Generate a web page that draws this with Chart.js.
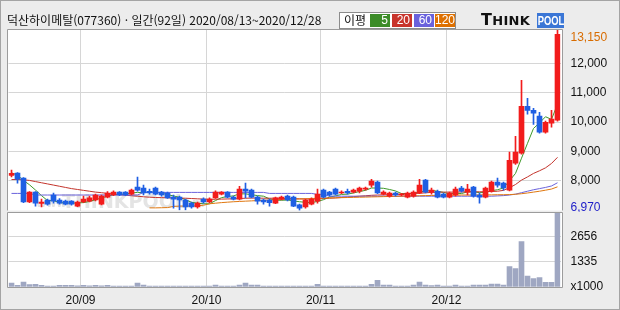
<!DOCTYPE html>
<html lang="ko">
<head>
<meta charset="utf-8">
<script src="https://cdn.jsdelivr.net/npm/chart.js@4.4.0/dist/chart.umd.min.js"></script>
<style>
  html, body { margin: 0; padding: 0; background: #fff; }
  #box { position: relative; width: 620px; height: 310px; background: #ececec; overflow: hidden; }
  #box::after { content: ''; position: absolute; left: 0; top: 0; right: 0; bottom: 0; border: 1px solid #a4a4a4; pointer-events: none; }
  canvas { position: absolute; left: 0; }
  #price { top: 0; }
  #volume { top: 212px; }
  #title { position: absolute; left: 7px; top: 12px; font: 12px 'Noto Sans CJK KR', sans-serif; color: #111; white-space: nowrap; line-height: 16px; }
  #legend { position: absolute; left: 339px; top: 12px; width: 115px; height: 15px; background: #fff; border: 1px solid #8c8c8c; font: 12px 'Noto Sans CJK KR', sans-serif; color: #111; }
  #legend .lbl { position: absolute; left: 4px; top: -1px; line-height: 16px; }
  #legend .sw { position: absolute; top: 1px; height: 13px; width: 20px; color: #fff; text-align: right; font: 12px 'Liberation Sans', sans-serif; line-height: 13px; box-sizing: border-box; padding-right: 2px; }
  #logo { position: absolute; left: 481px; top: 13px; height: 15px; white-space: nowrap; }
  #logo .think { position: absolute; left: 0; top: -1px; font: bold 16px 'DejaVu Sans', sans-serif; color: #111; line-height: 16px; letter-spacing: 0.3px; }
  #logo .think small { font-size: 13px; }
  #logo .pool { position: absolute; left: 56px; top: 0; width: 27px; height: 15px; background: #3a76d6; overflow: hidden; }
  #logo .pool span { display: block; width: 36px; color: #fff; font: bold 13px 'Liberation Sans', sans-serif; line-height: 15px; transform: scaleX(0.72); transform-origin: 0 0; padding-left: 1px; }
</style>
</head>
<body>
<div id="box">
  <canvas id="price" width="620" height="212"></canvas>
  <canvas id="volume" width="620" height="98"></canvas>
  <div id="title">덕산하이메탈(077360) · 일간(92일) 2020/08/13~2020/12/28</div>
  <div id="legend">
    <span class="lbl">이평</span>
    <span class="sw" style="left:30px;background:#3c8c28">5</span>
    <span class="sw" style="left:52px;background:#c8342c">20</span>
    <span class="sw" style="left:74px;background:#6a62dc">60</span>
    <span class="sw" style="left:95px;background:#de7000">120</span>
  </div>
  <div id="logo"><span class="think">T<small>HINK</small></span><span class="pool"><span>POOL</span></span></div>
</div>
<script>
// daily candles 2020/08/13 ~ 2020/12/28 (92 trading days)
const opens = [
  8170, 8250, 8080, 7260, 7600, 7210, 7330, 7500, 7330, 7290,
  7290, 7120, 7260, 7290, 7330, 7190, 7430, 7500, 7600, 7600,
  7530, 7770, 7740, 7630, 7740, 7600, 7570, 7430, 7430, 7330,
  7220, 7090, 7360, 7260, 7400, 7530, 7600, 7430, 7360, 7700,
  7670, 7430, 7330, 7330, 7220, 7360, 7460, 7430, 7160, 7090,
  7190, 7290, 7670, 7600, 7700, 7570, 7630, 7600, 7630, 7700,
  7840, 7940, 7530, 7460, 7570, 7500, 7430, 7460, 7570, 8010,
  7600, 7630, 7530, 7430, 7500, 7740, 7600, 7770, 7500, 7430,
  7630, 7940, 7910, 7670, 8590, 8930, 10540, 10400, 10200, 9650,
  9960, 10060
];
const highs = [
  8350, 8270, 8100, 7620, 7620, 7360, 7360, 7570, 7380, 7330,
  7310, 7290, 7460, 7460, 7530, 7500, 7620, 7640, 7620, 7620,
  7700, 8110, 7840, 7700, 7770, 7630, 7600, 7500, 7460, 7360,
  7260, 7260, 7400, 7400, 7640, 7620, 7620, 7460, 7800, 7910,
  7700, 7460, 7360, 7360, 7430, 7460, 7500, 7460, 7190, 7360,
  7400, 7700, 7700, 7630, 7740, 7640, 7700, 7700, 7770, 7770,
  8040, 7980, 7640, 7600, 7600, 7560, 7600, 7640, 8040, 8040,
  7740, 7670, 7570, 7600, 7770, 7800, 7870, 7800, 7570, 7770,
  7980, 8080, 7940, 8970, 9510, 11430, 10810, 10470, 10330, 10030,
  10400, 13150
];
const lows = [
  8120, 7910, 7240, 7240, 7120, 7090, 7150, 7220, 7190, 7160,
  7150, 7100, 7240, 7260, 7300, 7160, 7400, 7480, 7480, 7480,
  7500, 7630, 7500, 7530, 7500, 7460, 7380, 7050, 6990, 6990,
  7050, 7050, 7220, 7240, 7380, 7500, 7400, 7330, 7330, 7400,
  7400, 7190, 7190, 7120, 7200, 7330, 7300, 7100, 6970, 7050,
  7160, 7220, 7400, 7460, 7500, 7550, 7530, 7570, 7570, 7670,
  7770, 7550, 7500, 7430, 7460, 7470, 7400, 7430, 7550, 7570,
  7530, 7400, 7400, 7400, 7460, 7600, 7500, 7430, 7220, 7400,
  7600, 7770, 7670, 7640, 8550, 8900, 10270, 9920, 9620, 9620,
  9820, 10030
];
const closes = [
  8240, 8045, 7260, 7600, 7220, 7260, 7190, 7290, 7220, 7190,
  7190, 7260, 7360, 7400, 7500, 7460, 7570, 7600, 7500, 7500,
  7670, 7670, 7570, 7570, 7530, 7500, 7400, 7360, 7330, 7090,
  7090, 7220, 7260, 7360, 7600, 7600, 7430, 7360, 7700, 7630,
  7430, 7290, 7260, 7240, 7400, 7430, 7330, 7120, 7050, 7330,
  7360, 7530, 7430, 7500, 7530, 7600, 7570, 7670, 7740, 7740,
  7980, 7570, 7600, 7570, 7500, 7530, 7570, 7600, 7840, 7600,
  7670, 7430, 7430, 7570, 7700, 7630, 7700, 7460, 7430, 7740,
  7940, 7840, 7740, 8690, 8970, 10540, 10400, 10300, 9650, 9990,
  10100, 13000
];
// volume, x1000 shares
const volumes = [
  213, 90, 266, 122, 144, 90, 50, 50, 90, 90,
  90, 60, 90, 60, 90, 60, 90, 50, 50, 50,
  50, 213, 100, 50, 50, 50, 50, 50, 50, 50,
  50, 50, 50, 50, 100, 50, 50, 50, 100, 213,
  105, 105, 50, 50, 50, 50, 50, 50, 50, 50,
  50, 140, 50, 50, 50, 50, 50, 50, 50, 50,
  140, 355, 105, 105, 50, 50, 50, 105, 266, 105,
  70, 105, 50, 50, 105, 50, 50, 105, 105, 105,
  160, 160, 105, 1080, 975, 2410, 585, 443, 495, 250,
  250, 3930
];
// moving averages as drawn
const ma5 = [
  8260, 8180, 8000, 7850, 7670, 7480, 7310, 7310, 7240, 7230,
  7220, 7230, 7240, 7280, 7340, 7400, 7460, 7510, 7530, 7530,
  7570, 7590, 7580, 7600, 7600, 7570, 7510, 7470, 7420, 7340,
  7250, 7220, 7200, 7200, 7310, 7410, 7450, 7470, 7540, 7540,
  7510, 7480, 7460, 7370, 7320, 7320, 7330, 7300, 7270, 7250,
  7240, 7280, 7340, 7430, 7470, 7520, 7530, 7570, 7620, 7660,
  7740, 7740, 7730, 7690, 7640, 7550, 7550, 7550, 7610, 7630,
  7660, 7630, 7590, 7540, 7560, 7550, 7610, 7610, 7580, 7590,
  7650, 7680, 7740, 7990, 8240, 8760, 9270, 9780, 9970, 10180,
  10090, 10610
];
const ma20 = [
  8030, 8030, 8020, 8000, 7960, 7920, 7880, 7840, 7800, 7760,
  7720, 7690, 7660, 7630, 7600, 7580, 7555, 7535, 7515, 7495,
  7475, 7460, 7440, 7425, 7415, 7410, 7405, 7400, 7395, 7390,
  7380, 7370, 7360, 7355, 7355, 7360, 7365, 7370, 7380, 7390,
  7395, 7395, 7390, 7390, 7390, 7385, 7380, 7375, 7370, 7365,
  7365, 7370, 7380, 7390, 7400, 7415, 7430, 7445, 7460, 7475,
  7490, 7500, 7505, 7510, 7520, 7530, 7540, 7550, 7560, 7575,
  7590, 7595, 7600, 7600, 7600, 7605, 7610, 7610, 7610, 7615,
  7620, 7630, 7660, 7750, 7860, 8010, 8120, 8240, 8330, 8430,
  8580, 8790
];
const ma60 = [
  7555, 7555, 7555, 7555, 7500, 7500, 7500, 7500, 7500, 7500,
  7500, 7500, 7500, 7500, 7500, 7500, 7500, 7500, 7500, 7500,
  7500, 7500, 7590, 7590, 7590, 7590, 7590, 7590, 7590, 7590,
  7590, 7590, 7590, 7590, 7590, 7590, 7590, 7590, 7590, 7590,
  7590, 7590, 7590, 7555, 7555, 7555, 7555, 7555, 7555, 7555,
  7555, 7520, 7520, 7460, 7460, 7460, 7460, 7460, 7460, 7460,
  7460, 7460, 7460, 7460, 7460, 7460, 7460, 7460, 7460, 7460,
  7460, 7460, 7460, 7460, 7460, 7460, 7460, 7460, 7460, 7460,
  7460, 7470, 7480, 7500, 7530, 7580, 7630, 7680, 7720, 7760,
  7810, 7920
];
const ma120 = [
  null, null, null, null, null, null, null, null, null, null,
  null, null, null, null, null, null, null, null, null, null,
  null, null, null, 7060, 7060, 7065, 7070, 7110, 7120, 7120,
  7125, 7130, 7150, 7200, 7220, 7240, 7255, 7270, 7280, 7290,
  7300, 7310, 7320, 7330, 7340, 7350, 7355, 7360, 7365, 7370,
  7380, 7390, 7395, 7400, 7405, 7410, 7415, 7420, 7425, 7430,
  7435, 7440, 7445, 7450, 7455, 7460, 7465, 7470, 7475, 7480,
  7485, 7490, 7490, 7495, 7495, 7500, 7500, 7500, 7505, 7505,
  7505, 7510, 7510, 7515, 7525, 7545, 7570, 7600, 7630, 7665,
  7705, 7780
];
const monthLabels = ['20/09', '20/10', '20/11', '20/12'];
const monthStarts = [12, 33, 52, 73];      // index of first trading day of the month
const priceTicks = [6970, 8000, 9000, 10000, 11000, 12000, 13150];
const volumeTicks = [0, 1335, 2656];

const RED = '#f21c1c', BLUE = '#1f5fe3';
const GRID = '#d6d6d6';
const priceMin = priceTicks[0], priceMax = priceTicks[priceTicks.length - 1];
const idx = closes.map((c, i) => i);
const candleColor = idx.map(i => closes[i] >= opens[i] ? RED : BLUE);
const pts = arr => arr.map((v, i) => ({ x: i, y: v }));

Chart.defaults.font.family = "'Liberation Sans', 'DejaVu Sans', sans-serif";
Chart.defaults.font.size = 12;
Chart.defaults.color = '#111';
Chart.defaults.animation = false;

// keep the plot box exactly where the layout padding puts it
const noPad = s => { s.paddingTop = 0; s.paddingBottom = 0; s.paddingLeft = 0; s.paddingRight = 0; };

const xScale = (showLabels) => ({
  type: 'linear',
  offset: false,
  min: -0.5,
  max: closes.length - 0.5,
  afterBuildTicks: s => { s.ticks = monthStarts.map(i => ({ value: i - 0.5 })); },
  afterFit: s => { s.height = showLabels ? 23 : 0; noPad(s); },
  ticks: {
    display: showLabels,
    autoSkip: false,
    maxRotation: 0,
    padding: 6,
    callback: (v, i) => monthLabels[i]
  },
  grid: { color: GRID, drawTicks: false, offset: false },
  border: { display: false }
});

const framePlugin = {
  id: 'frame',
  beforeDraw(c) {
    const a = c.chartArea, x = c.ctx;
    x.save();
    x.fillStyle = '#fff';
    x.fillRect(a.left - 1, a.top, a.right - a.left + 3, a.bottom - a.top);
    x.restore();
  },
  afterDraw(c) {
    const a = c.chartArea, x = c.ctx;
    const l = a.left - 1, r = a.right + 2, t = Math.floor(a.top) - 0.5, b = Math.floor(a.bottom) + 0.5;
    x.save();
    x.strokeStyle = '#9c9c9c';
    x.lineWidth = 1;
    x.beginPath();
    x.moveTo(l, b); x.lineTo(l, t); x.lineTo(r, t); x.lineTo(r, b);
    if (c.options.plugins.frame && c.options.plugins.frame.bottom) x.lineTo(l, b);
    x.stroke();
    x.restore();
  }
};

const watermark = {
  id: 'watermark',
  beforeDatasetsDraw(c) {
    const x = c.ctx;
    x.save();
    x.fillStyle = '#e4e4e4';
    x.textBaseline = 'alphabetic';
    x.font = "bold 11px 'DejaVu Sans'";
    x.fillText('www.', 36, 207);
    x.font = "bold 19px 'DejaVu Sans'";
    x.fillText('THINKPOOL', 62, 208);
    x.font = "bold 12px 'DejaVu Sans'";
    x.fillText('.com', 172, 207);
    x.restore();
  }
};

new Chart(document.getElementById('price'), {
  type: 'bar',
  data: {
    datasets: [
      { type: 'line', data: pts(ma120), borderColor: '#e07810', borderWidth: 1, pointRadius: 0, order: 10 },
      { type: 'line', data: pts(ma60), borderColor: '#6a62dc', borderWidth: 1, pointRadius: 0, order: 10 },
      { type: 'line', data: pts(ma20), borderColor: '#c4342c', borderWidth: 1, pointRadius: 0, order: 10 },
      { type: 'line', data: pts(ma5), borderColor: '#3f9a2a', borderWidth: 1, pointRadius: 0, order: 10 },
      { data: idx.map(i => ({ x: i, y: [lows[i], highs[i]] })), backgroundColor: candleColor,
        barThickness: 1, grouped: false, order: 5 },
      { data: idx.map(i => ({ x: i, y: [opens[i], closes[i]] })), backgroundColor: candleColor,
        barThickness: 5, minBarLength: 1, grouped: false, order: 1 }
    ]
  },
  options: {
    responsive: false,
    layout: { padding: { left: 8.5, top: 30, right: 0, bottom: 1.5 } },
    plugins: { legend: { display: false }, tooltip: { enabled: false }, frame: { bottom: false } },
    scales: {
      x: xScale(false),
      y: {
        position: 'right',
        min: priceMin,
        max: priceMax,
        afterBuildTicks: s => { s.ticks = priceTicks.map(v => ({ value: v })); },
        afterFit: s => { s.width = 59.5; noPad(s); },
        ticks: {
          autoSkip: false,
          padding: 10,
          callback: v => {
            const s = v.toLocaleString('en-US');
            if (v === priceMax) return ['', s];
            if (v === priceMin) return [s, ''];
            return s;
          },
          color: ctx => ctx.tick.value === priceMax ? '#d86c00' : (ctx.tick.value === priceMin ? '#1c1cc8' : '#111'),
          font: ctx => ({ size: 12, lineHeight: ctx.tick && ctx.tick.value === priceMax ? 1.25 : (ctx.tick && ctx.tick.value === priceMin ? 0.55 : 1.2) })
        },
        grid: {
          drawTicks: false,
          color: ctx => (ctx.tick && (ctx.tick.value === priceMin || ctx.tick.value === priceMax)) ? 'rgba(0,0,0,0)' : GRID
        },
        border: { display: false }
      }
    }
  },
  plugins: [framePlugin, watermark]
});

new Chart(document.getElementById('volume'), {
  type: 'bar',
  data: {
    datasets: [
      { data: pts(volumes), backgroundColor: '#9fa7c2', barThickness: 5, grouped: false }
    ]
  },
  options: {
    responsive: false,
    layout: { padding: { left: 8.5, top: 1, right: 0, bottom: 0 } },
    plugins: { legend: { display: false }, tooltip: { enabled: false }, frame: { bottom: true } },
    scales: {
      x: xScale(true),
      y: {
        position: 'right',
        min: 0,
        max: 3930,
        afterBuildTicks: s => { s.ticks = volumeTicks.map(v => ({ value: v })); },
        afterFit: s => { s.width = 59.5; noPad(s); },
        ticks: {
          autoSkip: false,
          padding: 10,
          callback: v => v === 0 ? 'x1000' : String(v)
        },
        grid: {
          drawTicks: false,
          color: ctx => (ctx.tick && ctx.tick.value === 0) ? 'rgba(0,0,0,0)' : GRID
        },
        border: { display: false }
      }
    }
  },
  plugins: [framePlugin]
});
</script>
</body>
</html>
